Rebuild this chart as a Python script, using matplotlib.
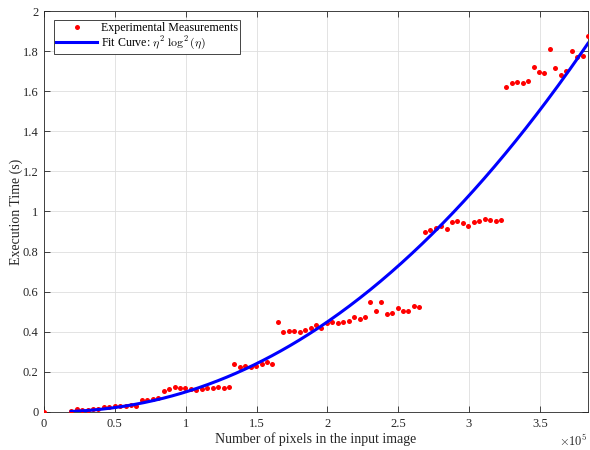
import numpy as np
import matplotlib
matplotlib.use("Agg")
import matplotlib.pyplot as plt
from matplotlib.ticker import FuncFormatter, MultipleLocator

plt.rcParams["font.family"] = ["Liberation Serif", "DejaVu Serif"]
plt.rcParams["mathtext.fontset"] = "cm"

# Image sizes (number of pixels) for each timed run
n_pixels = [
    0,
    19200, 23040, 26880, 30720, 34560, 38400, 42240, 46080, 49920, 53760,
    57600, 61440, 65280, 69120, 72960, 76800, 80640, 84480, 88320, 92160,
    96000, 99840, 103680, 107520, 111360, 115200, 119040, 122880, 126720, 130560,
    134400, 138240, 142080, 145920, 149760, 153600, 157440, 161280, 165120, 168960,
    172800, 176640, 180480, 184320, 188160, 192000, 195840, 199680, 203520, 207360,
    211200, 215040, 218880, 222720, 226560, 230400, 234240, 238080, 241920, 245760,
    249600, 253440, 257280, 261120, 264960, 268800, 272640, 276480, 280320, 284160,
    288000, 291840, 295680, 299520, 303360, 307200, 311040, 314880, 318720, 322560,
    326400, 330240, 334080, 337920, 341760, 345600, 349440, 353280, 357120, 360960,
    364800, 368640, 372480, 376320, 380160, 384000,
]

# Measured execution times (s)
exec_time = [
    0.0,
    0.006, 0.015, 0.011, 0.011, 0.015, 0.017, 0.026, 0.026, 0.028, 0.028,
    0.031, 0.033, 0.030, 0.058, 0.062, 0.065, 0.068, 0.106, 0.113, 0.123,
    0.122, 0.122, 0.116, 0.110, 0.115, 0.120, 0.120, 0.125, 0.122, 0.123,
    0.241, 0.224, 0.228, 0.226, 0.231, 0.240, 0.248, 0.240, 0.449, 0.397,
    0.402, 0.402, 0.400, 0.410, 0.421, 0.432, 0.419, 0.442, 0.451, 0.445,
    0.448, 0.453, 0.474, 0.465, 0.473, 0.547, 0.505, 0.547, 0.487, 0.492,
    0.517, 0.502, 0.505, 0.530, 0.522, 0.896, 0.908, 0.916, 0.929, 0.914,
    0.948, 0.954, 0.944, 0.926, 0.948, 0.954, 0.961, 0.959, 0.951, 0.956,
    1.621, 1.642, 1.644, 1.639, 1.651, 1.721, 1.697, 1.692, 1.812, 1.717,
    1.681, 1.699, 1.800, 1.769, 1.774, 1.877,
]

x = np.array(n_pixels, dtype=float)
y = np.array(exec_time, dtype=float)

# Least-squares fit of y = a * n^2 * log^2(n) over the nonzero sizes
mask = x > 0
basis = x[mask] ** 2 * np.log(x[mask]) ** 2
a = np.sum(basis * y[mask]) / np.sum(basis ** 2)
x_fit = np.linspace(x[mask].min(), x.max(), 400)
y_fit = a * x_fit ** 2 * np.log(x_fit) ** 2

fig = plt.figure(figsize=(5.9, 4.5), dpi=100)
ax = fig.add_axes([44 / 590, 38 / 450, 544 / 590, 401 / 450])

ax.plot(x, y, "o", color="#ff0000", markersize=3.6, markeredgewidth=0,
        label="Experimental Measurements", zorder=3)
ax.plot(x_fit, y_fit, "-", color="#0000ff", linewidth=2.2,
        label=r"Fit Curve: $\eta^2\ \log^2(\eta)$", zorder=4)

ax.set_xlim(0, x.max())
ax.set_ylim(0, 2)
ax.xaxis.set_major_locator(MultipleLocator(0.5e5))
ax.yaxis.set_major_locator(MultipleLocator(0.2))
ax.xaxis.set_major_formatter(FuncFormatter(lambda v, p: f"{v / 1e5:g}"))
ax.yaxis.set_major_formatter(FuncFormatter(lambda v, p: f"{v:g}"))

axis_color = "#262626"
for s in ax.spines.values():
    s.set_color(axis_color)
    s.set_linewidth(0.6)
ax.tick_params(direction="in", top=True, right=True, length=4, width=0.6,
               colors=axis_color, labelsize=9, pad=4)
ax.grid(True, color="#dedede", linewidth=0.6)
ax.set_axisbelow(True)

ax.set_xlabel("Number of pixels in the input image", fontsize=10, color=axis_color, labelpad=2)
ax.set_ylabel("Execution Time (s)", fontsize=10, color=axis_color, labelpad=0)
ax.text(1.0, -0.052, r"$\times10^5$", transform=ax.transAxes, ha="right", va="top",
        fontsize=9, color=axis_color)

leg = ax.legend(loc="upper left", fontsize=8.6, frameon=True, fancybox=False,
                edgecolor=axis_color, framealpha=1, borderpad=0.2,
                handlelength=3.4, handletextpad=0.3, labelspacing=0.0,
                borderaxespad=0, bbox_to_anchor=(10 / 544, 1 - 9 / 401))
leg.get_frame().set_linewidth(0.6)

fig.savefig("out.png", dpi=100)
